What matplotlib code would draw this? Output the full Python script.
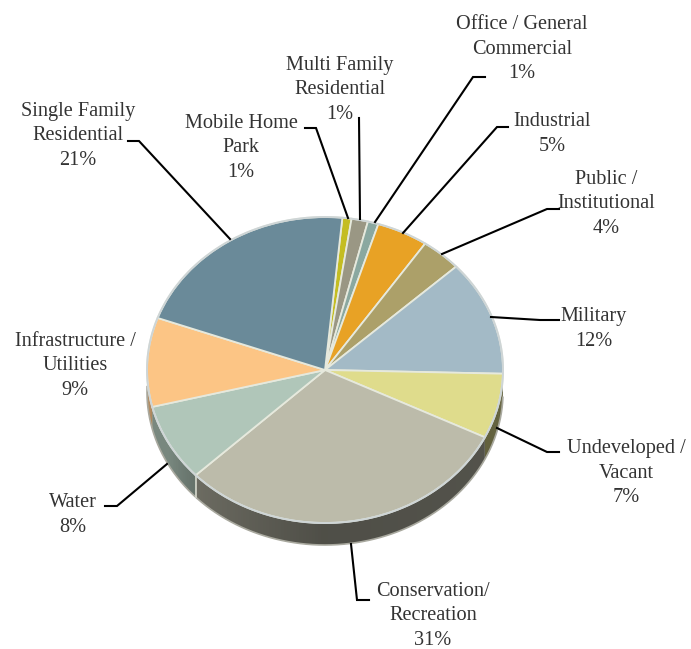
"3D style land use pie chart"
import numpy as np
import matplotlib
matplotlib.use('Agg')
import matplotlib.pyplot as plt

# land use shares, clockwise from the small slice right of the top
categories = ['Mobile Home\nPark', 'Multi Family\nResidential', 'Office / General\nCommercial',
              'Industrial', 'Public /\nInstitutional', 'Military', 'Undeveloped /\nVacant',
              'Conservation/\nRecreation', 'Water', 'Infrastructure /\nUtilities',
              'Single Family\nResidential']
shares = [0.83, 1.49, 0.97, 4.67, 3.67, 12.2, 6.86, 30.69, 8.19, 9.4, 21.03]
colors = ['#c4bd22', '#9a9784', '#8aa8a0', '#e8a225', '#aca069', '#a3bac6',
          '#dfdc8c', '#bcbbaa', '#b0c6b9', '#fcc585', '#6a8a99']

# label centres in pixels
label_pos = [(241, 148), (340, 90), (522, 49), (552, 134), (606, 204), (594, 329),
             (626, 473), (433, 616), (73, 515), (75, 366), (78, 136)]
# leader lines in pixels, label end first
leaders = [[(305, 128), (316, 128), (348, 218)],
           [(359, 118), (360, 219)],
           [(485, 77), (473, 77), (375, 222)],
           [(508, 127), (497, 127), (403, 233)],
           [(559, 209), (547, 209), (442, 254)],
           [(559, 320), (540, 320), (491, 317)],
           [(559, 452), (547, 452), (497, 428)],
           [(369, 600), (357, 600), (351, 544)],
           [(105, 506), (117, 506), (167, 464)],
           [(128, 141), (139, 141), (230, 239)]]

W, H = 691, 649
cx, cy = 325, 370
rx, ry = 178, 153
depth = 22
start = 5.6   # clockwise from 12 o'clock

fig = plt.figure(figsize=(W / 100, H / 100), dpi=100, facecolor='white')

# pie axes: one x unit is rx pixels, one y unit is ry pixels, which gives the tilted ellipse
ax = fig.add_axes([0, 0, 1, 1])
ax.pie(shares, colors=colors, startangle=90 - start, counterclock=False,
       wedgeprops={'edgecolor': '#e6e9dd', 'linewidth': 1.3, 'zorder': 5})
ax.set_aspect('auto')
ax.set_xlim(-cx / rx, (W - cx) / rx)
ax.set_ylim((cy - H) / ry, cy / ry)
ax.axis('off')

# side wall, darker towards the back right and lighter towards the left
d = depth / ry
edges = start + np.cumsum([0] + shares) * 360 / sum(shares)
for a, b, col in zip(edges[:-1], edges[1:], colors):
    lo, hi = max(a, 90), min(b, 272)
    if lo >= hi:
        continue
    base = np.array(matplotlib.colors.to_rgb(col))
    for t in np.arange(lo, hi, 1.0):
        # steps overlap so no seams show between them
        t2 = min(t + 1.8, hi)
        th = np.radians(np.linspace(t, t2, 4))
        shade = np.interp(t, [90, 120, 180, 227, 240, 272], [0.45, 0.44, 0.42, 0.58, 0.68, 0.7])
        xs = np.r_[np.sin(th), np.sin(th)[::-1]]
        ys = np.r_[np.cos(th), np.cos(th)[::-1] - d]
        ax.fill(xs, ys, color=base * shade, lw=0, zorder=2)

# rim highlights
th = np.radians(np.linspace(0, 360, 361))
ax.plot(np.sin(th), np.cos(th), color='#ced5d6', lw=1.4, zorder=6)
th = np.radians(np.linspace(92, 272, 181))
ax.plot(np.sin(th), np.cos(th) - d, color='#a9a99f', lw=1.2, zorder=3)
for t in [edges[8]]:
    r = np.radians(t)
    ax.plot([np.sin(r)] * 2, [np.cos(r), np.cos(r) - d], color='#d5d8cc', lw=1.2, zorder=4)

# labels and leaders share a pixel coordinate axes on top
over = fig.add_axes([0, 0, 1, 1], facecolor='none')
over.set_xlim(0, W)
over.set_ylim(H, 0)
over.axis('off')

for line in leaders:
    pts = np.array(line)
    over.plot(pts[:, 0], pts[:, 1], color='black', lw=1.5, solid_joinstyle='miter')

for name, share, pos in zip(categories, shares, label_pos):
    over.text(pos[0], pos[1], '{}\n{:.0f}%'.format(name, share), ha='center', va='center',
              family='Liberation Serif', fontsize=14.6, color='#333333', linespacing=1.36)

fig.savefig('out.png', dpi=100)
